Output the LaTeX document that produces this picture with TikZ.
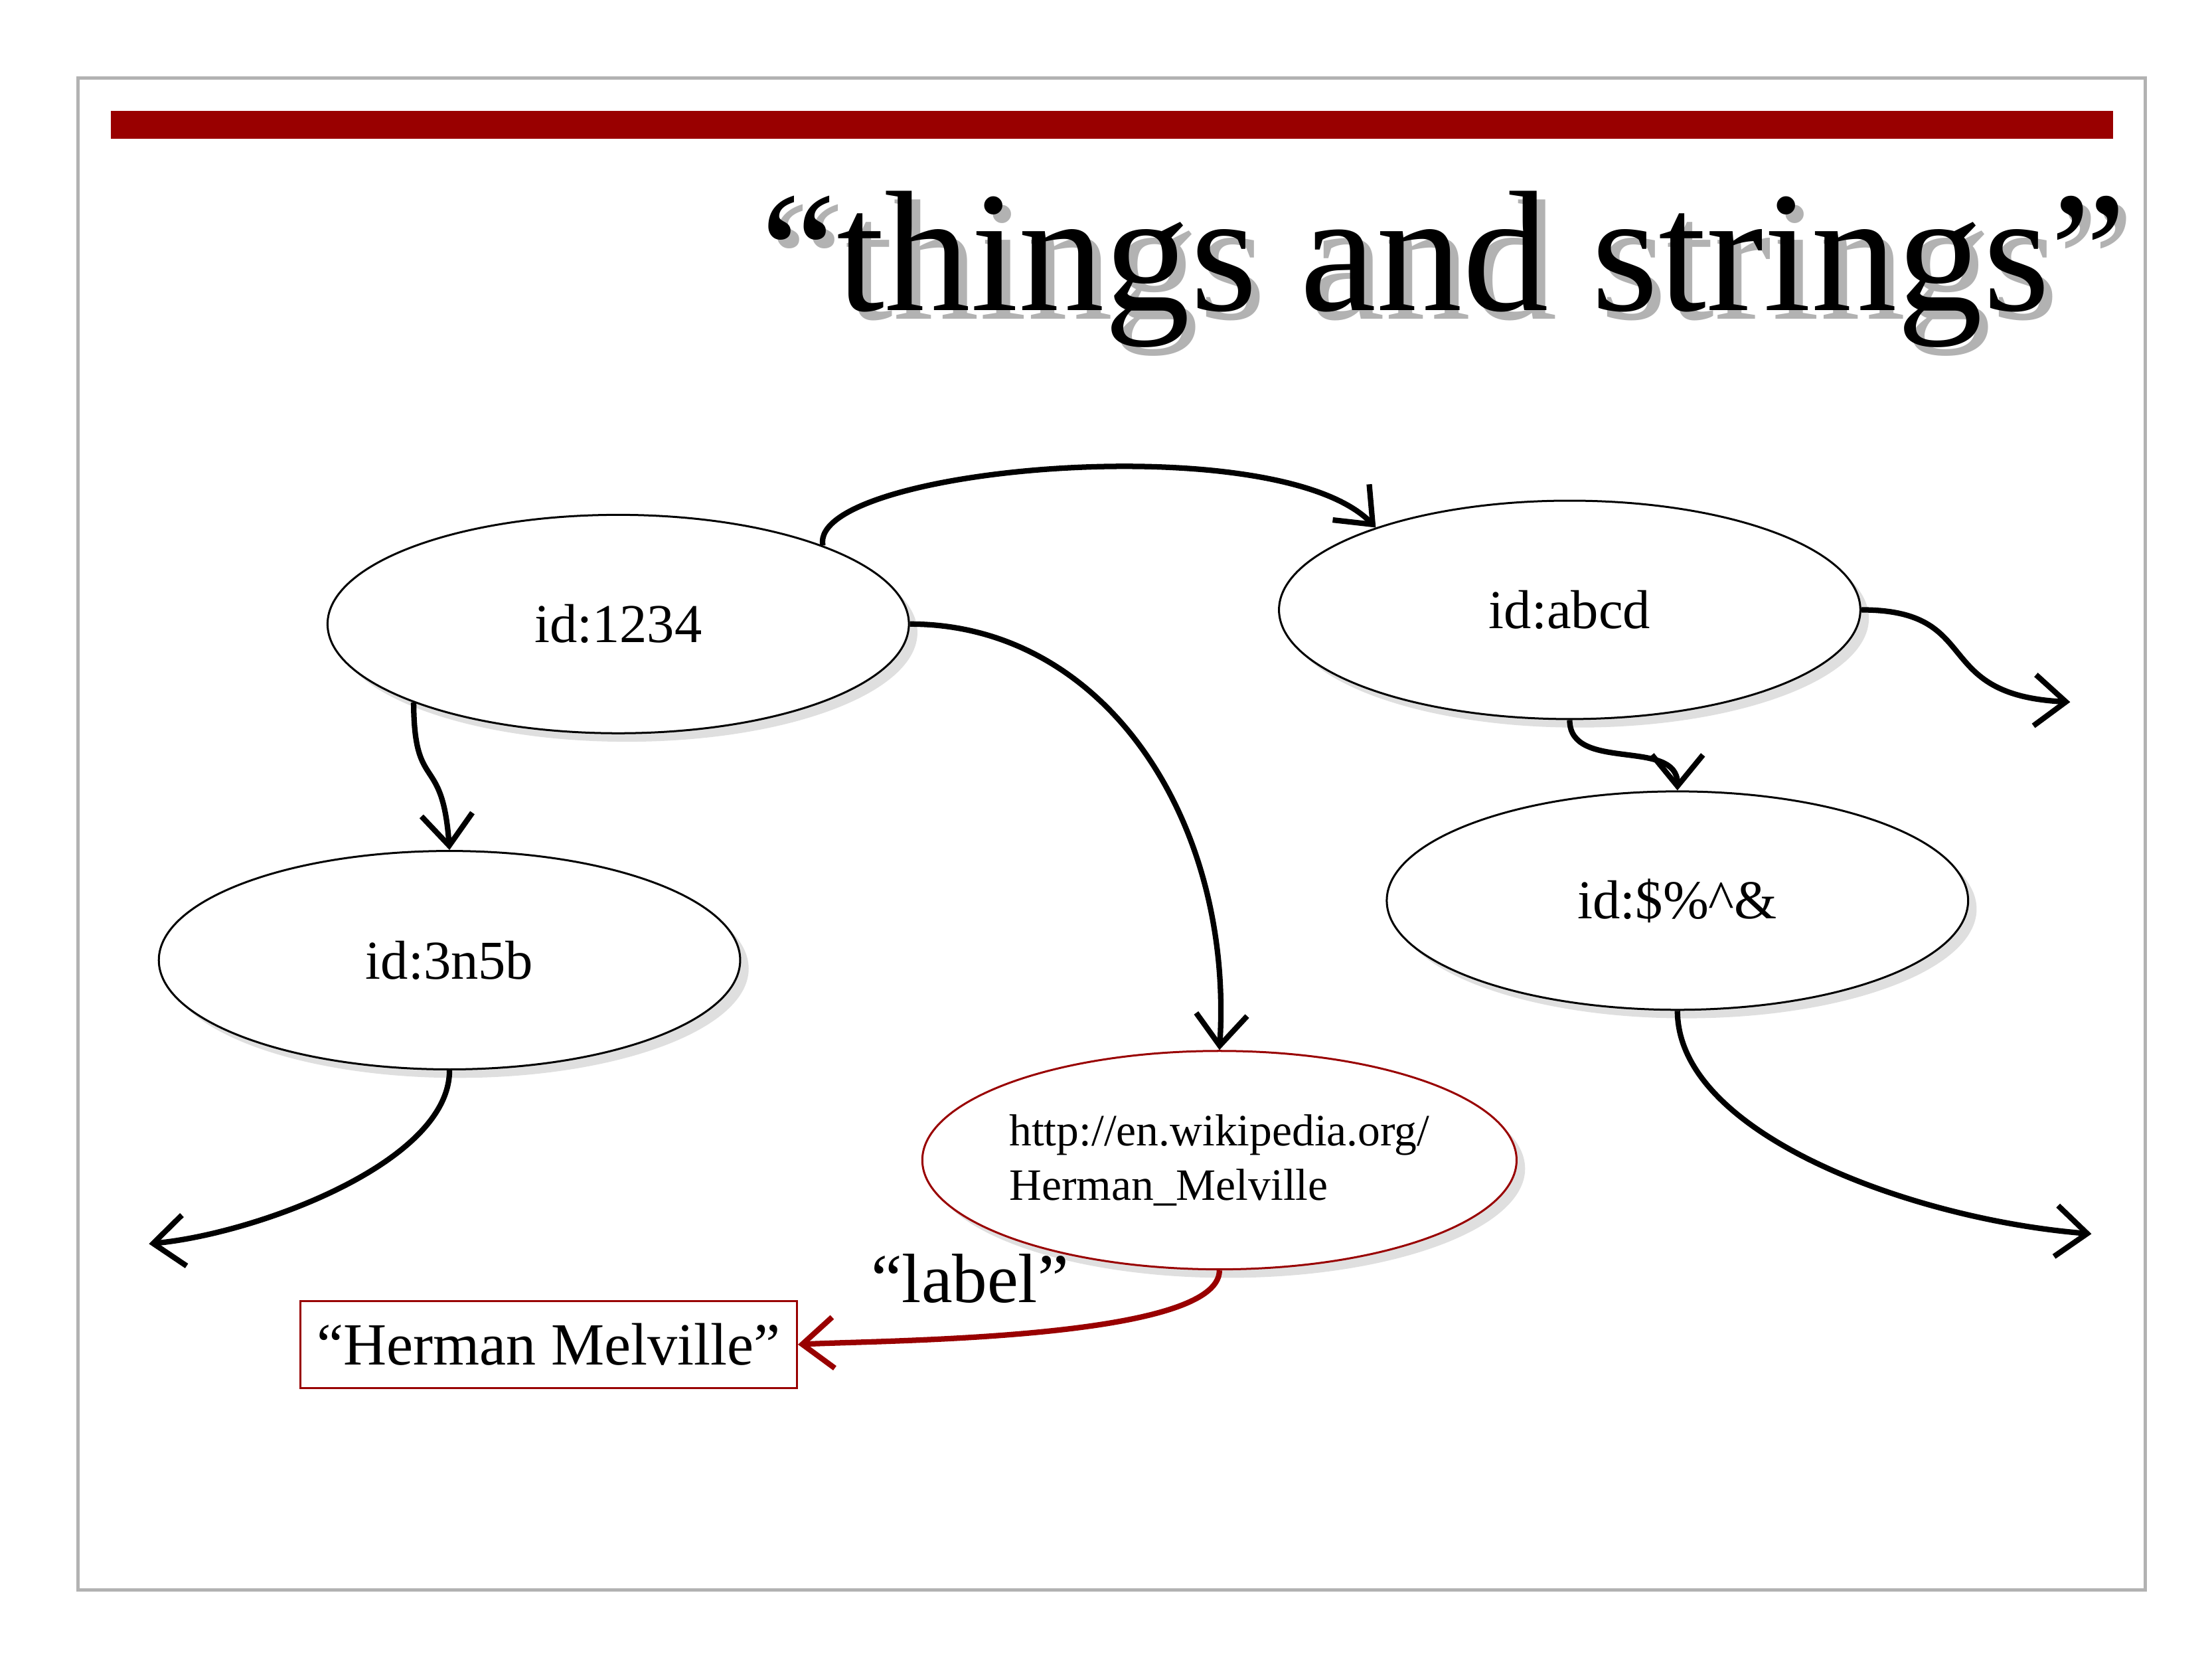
\documentclass[tikz,border=0pt]{standalone}
\usepackage{fontspec}
\setmainfont{Liberation Serif}
\usetikzlibrary{arrows.meta,shadows,shapes.geometric}
\definecolor{darkred}{HTML}{990000}
\tikzset{
  thing/.style={draw,ellipse,inner sep=0pt,minimum width=4.1cm,minimum height=1.54cm,fill=white,
    drop shadow={shadow xshift=.6mm,shadow yshift=-.6mm,opacity=.25},font=\fontsize{11}{13}\selectfont},
  link/.style={line width=1.1pt,-{Straight Barb[length=2.2mm,width=3.6mm]}},
}
\begin{document}
\begin{tikzpicture}[x=0.1mm,y=-0.1mm]
    \useasboundingbox (0,0) rectangle (1560,1170);
    \draw[gray!60,line width=.6pt] (55,55) rectangle (1513,1121);
    \fill[darkred] (78,78) rectangle (1490,98);
    \node[gray!60,font=\fontsize{34.5}{38}\selectfont] at (1024,196) {“things and strings”};
    \node (title) [font=\fontsize{34.5}{38}\selectfont] at (1018,190) {“things and strings”};

    \node[thing] (a) at (436,440) {id:1234};
    \node[thing] (b) at (1107,430) {id:abcd};
    \node[thing] (c) at (317,677) {id:3n5b};
    \node[thing] (d) at (1183,635) {id:\$\%\^{}\&};
    \node[thing,draw=darkred,align=left,font=\fontsize{9}{11}\selectfont] (w) at (860,818)
        {http://en.wikipedia.org/\\Herman\_Melville};
    \node[draw=darkred,minimum width=3.35cm,minimum height=.61cm,font=\fontsize{12}{14}\selectfont]
        (hm) at (387,948) {“Herman Melville”};

    \coordinate (bout) at (1460,495);
    \coordinate (cout) at (105,877);
    \coordinate (dout) at (1475,870);

    \draw[link] (a.21) .. controls (570,330) and (900,300) .. (b.157);
    \draw[link] (a.east) .. controls (780,440) and (870,580) .. (w.north);
    \draw[link] (a.-159) .. controls (292,560) and (312,530) .. (c.north);
    \draw[link] (b.east) .. controls (1400,430) and (1360,490) .. (bout);
    \draw[link] (b.-90) .. controls (1107,545) and (1183,520) .. (d.north);
    \draw[link] (c.south) .. controls (317,820) and (180,870) .. (cout);
    \draw[link] (d.south) .. controls (1183,800) and (1350,860) .. (dout);
    \draw[link,darkred] (w.south) .. controls (860,945) and (620,945) .. (hm.east)
        node[pos=.62,above=3pt,black,font=\fontsize{14}{16}\selectfont] {“label”};
\end{tikzpicture}
\end{document}
